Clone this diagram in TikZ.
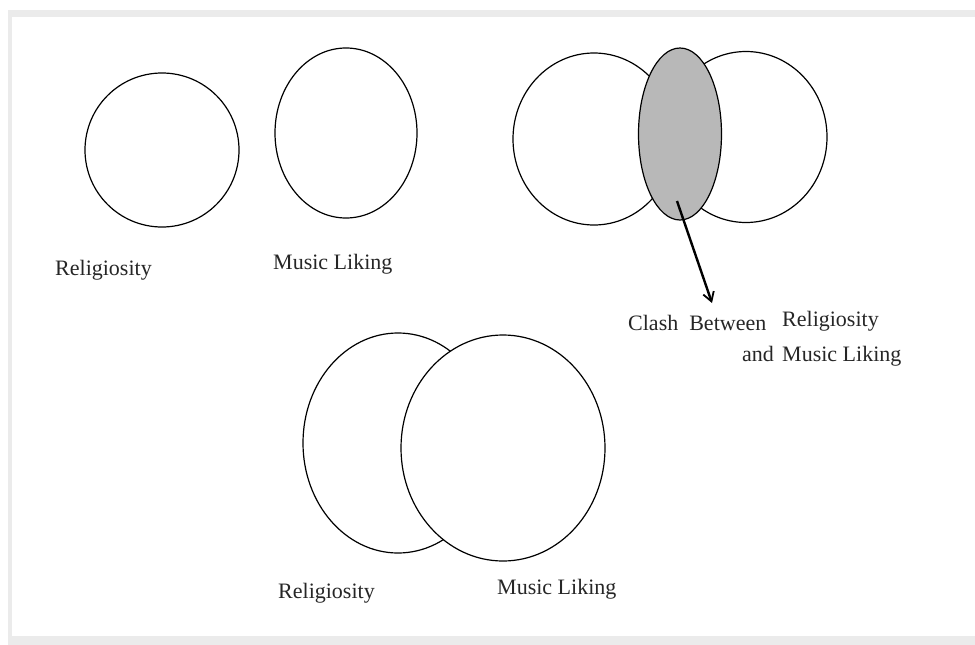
\documentclass[tikz,border=0pt]{standalone}
\usepackage{fontspec}
\setmainfont{Liberation Serif}
\usetikzlibrary{arrows.meta,shapes.geometric}
\begin{document}
\begin{tikzpicture}[x=1pt,y=-1pt,
  circ/.style={draw=black,line width=1.2pt},
  lbl/.style={inner sep=0pt,font=\fontsize{22}{24}\selectfont,text=black!85},
  arr/.style={line width=2.4pt,-{Straight Barb[length=9pt,width=11pt,line width=1.8pt]}}]
\useasboundingbox (0,0) rectangle (975,645);
\fill[white] (0,0) rectangle (975,645);
\fill[black!8] (8,10) rectangle (975,645);
\fill[white] (12,17) rectangle (975,636);
% top-left pair
\node[circ,ellipse,minimum width=154pt,minimum height=154pt,inner sep=0pt] (rel1) at (162,150) {};
\node[circ,ellipse,minimum width=142pt,minimum height=170pt,inner sep=0pt] (mus1) at (346,133) {};
\node[lbl,anchor=base west] (trel1) at (55,275) {Religiosity};
\node[lbl,anchor=base west] (tmus1) at (273,269) {Music Liking};
% top-right overlap
\node[circ,ellipse,minimum width=162pt,minimum height=172pt,inner sep=0pt] (rel2) at (594,139) {};
\node[circ,ellipse,minimum width=162pt,minimum height=171pt,inner sep=0pt] (mus2) at (746,137) {};
\node[circ,ellipse,fill=black!28,minimum width=83pt,minimum height=172pt,inner sep=0pt] (clash) at (680,134) {};
\coordinate (cs) at (677,201);
\coordinate (ce) at (712,303);
\draw[arr] (cs) -- (ce);
\node[lbl,anchor=base west] (tclash) at (628,330) {Clash\ \ Between};
\node[lbl,anchor=base west] (trel2) at (782,326) {Religiosity};
\node[lbl,anchor=base east] (tand) at (774,361) {and};
\node[lbl,anchor=base west] (tmus2) at (782,361) {Music Liking};
% bottom pair
\node[circ,ellipse,minimum width=190pt,minimum height=220pt,inner sep=0pt] (rel3) at (398,443) {};
\node[circ,ellipse,fill=white,minimum width=204pt,minimum height=226pt,inner sep=0pt] (mus3) at (503,448) {};
\node[lbl,anchor=base west] (trel3) at (278,598) {Religiosity};
\node[lbl,anchor=base west] (tmus3) at (497,594) {Music Liking};
\end{tikzpicture}
\end{document}
